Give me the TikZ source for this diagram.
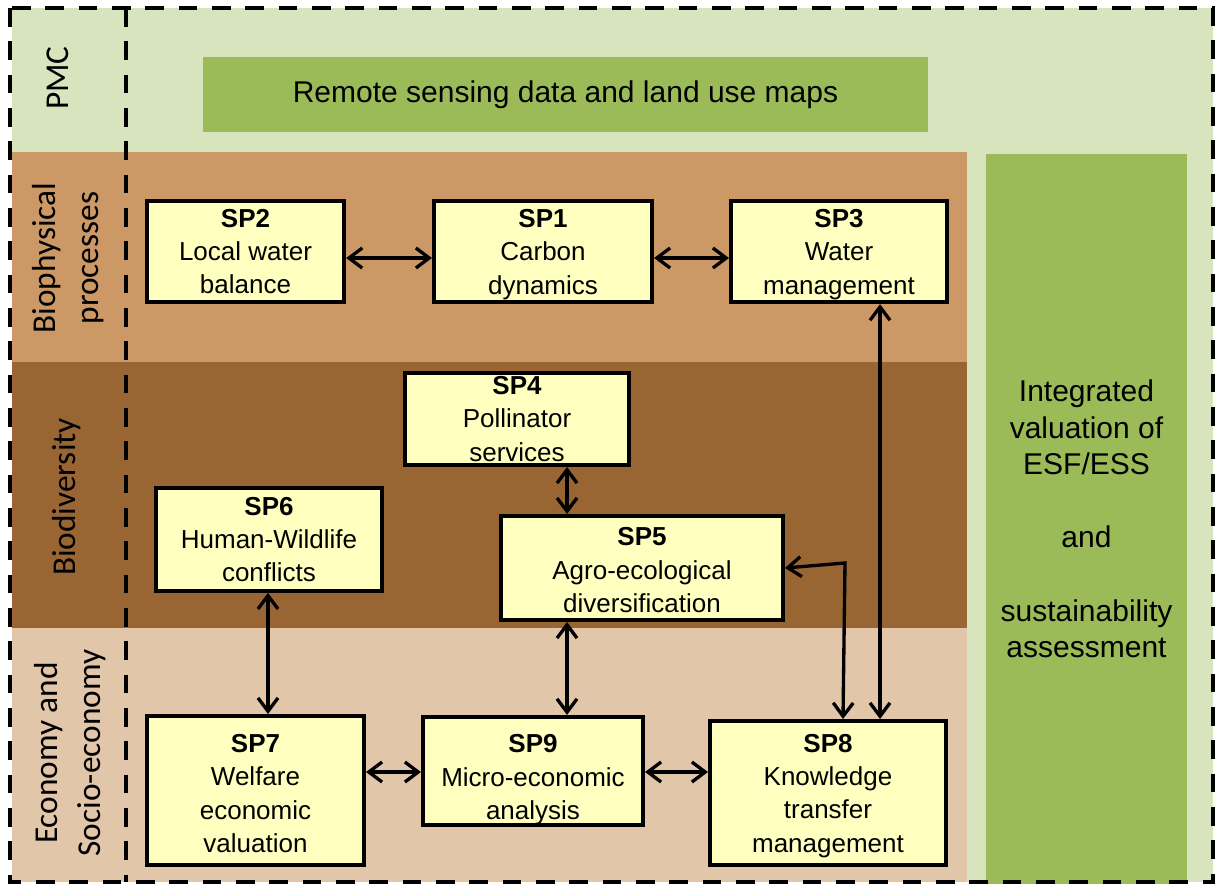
\documentclass[tikz,border=0pt]{standalone}
\usepackage{fontspec}
\setmainfont{Liberation Sans}
\newfontfamily\calfont{Carlito}
\usetikzlibrary{arrows.meta}
\definecolor{lgreen}{HTML}{D7E4BD}
\definecolor{mgreen}{HTML}{9BBB59}
\definecolor{tanband}{HTML}{CC9966}
\definecolor{brownband}{HTML}{996633}
\definecolor{econband}{HTML}{E2C6A9}
\definecolor{boxfill}{HTML}{FFFFC0}
\tikzset{
  spbox/.style={draw=black, line width=3pt, fill=boxfill, align=center, inner sep=0pt,
    font=\fontsize{19.5}{25}\selectfont},
  arr/.style={{Straight Barb[length=10pt,width=15pt]}-{Straight Barb[length=10pt,width=15pt]}, line width=2.5pt},
  dashline/.style={draw=black, line width=3pt, dash pattern=on 14pt off 11pt},
  sidelabel/.style={rotate=90, align=center, font=\calfont\fontsize{25}{32}\selectfont},
  greenbox/.style={fill=mgreen, inner sep=0pt, align=center, font=\fontsize{22.5}{27.4}\selectfont},
}
\begin{document}
\begin{tikzpicture}[x=0.75pt,y=-0.75pt]
\useasboundingbox (0,0) rectangle (1215,885);
% backgrounds
\fill[lgreen] (12,8) rectangle (1213,882);
\fill[tanband] (12,152) rectangle (967,362);
\fill[brownband] (12,362) rectangle (967,628);
\fill[econband] (12,628) rectangle (967,882);
% green boxes
\node[greenbox, minimum width=543.75pt, minimum height=56.25pt] (rs) at (565.5,94.5) {Remote sensing data and land use maps};
\node[greenbox, minimum width=150.75pt, minimum height=547.5pt] (iv) at (1086.5,519)
  {Integrated\\valuation of\\ESF/ESS\\[27.4pt]and\\[27.4pt]sustainability\\assessment};
% dashed frames
\draw[dashline] (10,8) rectangle (1213,882);
\draw[dashline] (126,8) -- (126,882);
% side labels
\node[sidelabel] (lpmc) at (58,78) {PMC};
\node[sidelabel] (lbio) at (68,258) {Biophysical\\processes};
\node[sidelabel] (ldiv) at (67,497) {Biodiversity};
\node[sidelabel] (leco) at (70,753) {Economy and\\Socio-economy};
% SP boxes
\node[spbox, minimum width=148pt, minimum height=76pt] (sp2) at (245.5,251.5) {\textbf{SP2}\\Local water\\balance};
\node[spbox, minimum width=163.5pt, minimum height=76pt] (sp1) at (543,251.5) {\rule{0pt}{18pt}\textbf{SP1}\\Carbon\\dynamics};
\node[spbox, minimum width=162pt, minimum height=76pt] (sp3) at (839,251.5) {\rule{0pt}{18pt}\textbf{SP3}\\Water\\management};
\node[spbox, minimum width=168pt, minimum height=69pt] (sp4) at (517,419) {\textbf{SP4}\\Pollinator\\services};
\node[spbox, minimum width=169.5pt, minimum height=77pt] (sp6) at (269,539.5) {\textbf{SP6}\\Human-Wildlife\\conflicts};
\node[spbox, minimum width=211.5pt, minimum height=78pt] (sp5) at (642,568) {\rule{0pt}{17pt}\textbf{SP5}\\Agro-ecological\\diversification};
\node[spbox, minimum width=162.75pt, minimum height=111.75pt] (sp7) at (255.5,790.5) {\rule{0pt}{18pt}\textbf{SP7}\\Welfare\\economic\\valuation};
\node[spbox, minimum width=165pt, minimum height=75pt] (sp9) at (533,771) {\rule{0pt}{27pt}\textbf{SP9}\\Micro-economic\\analysis};
\node[spbox, minimum width=177pt, minimum height=108pt] (sp8) at (828,793) {\rule{0pt}{18pt}\textbf{SP8}\\Knowledge\\transfer\\management};
% helper coordinates
\coordinate (y258) at (0,258);
\coordinate (y772) at (0,772);
\coordinate (x880) at (880,0);
\coordinate (x567) at (567,0);
\coordinate (x268) at (268,0);
\coordinate (x843) at (843,0);
\coordinate (bend) at (845,563);
% connectors
\draw[arr] (sp2.east |- y258) -- (sp1.west |- y258);
\draw[arr] (sp1.east |- y258) -- (sp3.west |- y258);
\draw[arr] (sp3.south -| x880) -- (sp8.north -| x880);
\draw[arr] (sp4.south -| x567) -- (sp5.north -| x567);
\draw[arr] (sp5.south -| x567) -- (sp9.north -| x567);
\draw[arr] (sp6.south -| x268) -- (sp7.north -| x268);
\draw[arr] (sp7.east |- y772) -- (sp9.west |- y772);
\draw[arr] (sp9.east |- y772) -- (sp8.west |- y772);
\draw[arr] (sp5.east) -- (bend) -- (sp8.north -| x843);
\end{tikzpicture}
\end{document}
